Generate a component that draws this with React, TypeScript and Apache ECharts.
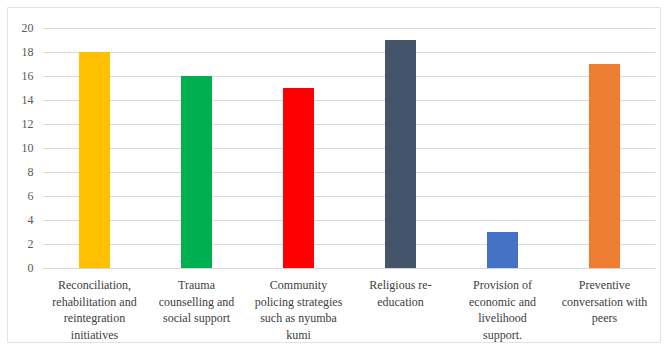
import React, { useEffect, useRef } from "react";
import * as echarts from "echarts";

// Category labels (line breaks as shown under each bar)
const categories: string[] = [
  "Reconciliation,\nrehabilitation and\nreintegration\ninitiatives",
  "Trauma\ncounselling and\nsocial support",
  "Community\npolicing strategies\nsuch as nyumba\nkumi",
  "Religious re-\neducation",
  "Provision of\neconomic and\nlivelihood\nsupport.",
  "Preventive\nconversation with\npeers",
];

const values: number[] = [18, 16, 15, 19, 3, 17];

const barColors: string[] = [
  "#FFC000",
  "#00B050",
  "#FF0000",
  "#44546A",
  "#4472C4",
  "#ED7D31",
];

const yTicks = { min: 0, max: 20, interval: 2 };

export default function App() {
  const ref = useRef<HTMLDivElement>(null);

  useEffect(() => {
    if (!ref.current) return;
    const chart = echarts.init(ref.current, undefined, { renderer: "svg" });
    const font = "serif";
    chart.setOption({
      animation: false,
      backgroundColor: "#ffffff",
      textStyle: { fontFamily: font },
      graphic: [
        {
          type: "rect",
          shape: { x: 7.5, y: 7.5, width: 653, height: 335 },
          style: { fill: "none", stroke: "#e3e3e3", lineWidth: 1 },
          silent: true,
        },
      ],
      grid: { left: 43.5, right: 8.5, top: 28, bottom: 83, containLabel: false },
      xAxis: {
        type: "category",
        data: categories,
        axisLine: { show: true, lineStyle: { color: "#d9d9d9", width: 1 } },
        axisTick: { show: false },
        axisLabel: {
          interval: 0,
          margin: 9,
          color: "#404040",
          fontFamily: font,
          fontSize: 12,
          lineHeight: 16.5,
          align: "center",
        },
      },
      yAxis: {
        type: "value",
        min: yTicks.min,
        max: yTicks.max,
        interval: yTicks.interval,
        axisLine: { show: false },
        axisTick: { show: false },
        splitLine: { lineStyle: { color: "#d9d9d9", width: 1 } },
        axisLabel: {
          margin: 10,
          color: "#595959",
          fontFamily: font,
          fontSize: 12,
        },
      },
      series: [
        {
          type: "bar",
          data: values.map((v, i) => ({ value: v, itemStyle: { color: barColors[i] } })),
          barWidth: 31,
        },
      ],
    });
    return () => chart.dispose();
  }, []);

  return (
    <div
      ref={ref}
      style={{ position: "fixed", left: 0, top: 0, width: 664, height: 351 }}
    />
  );
}
